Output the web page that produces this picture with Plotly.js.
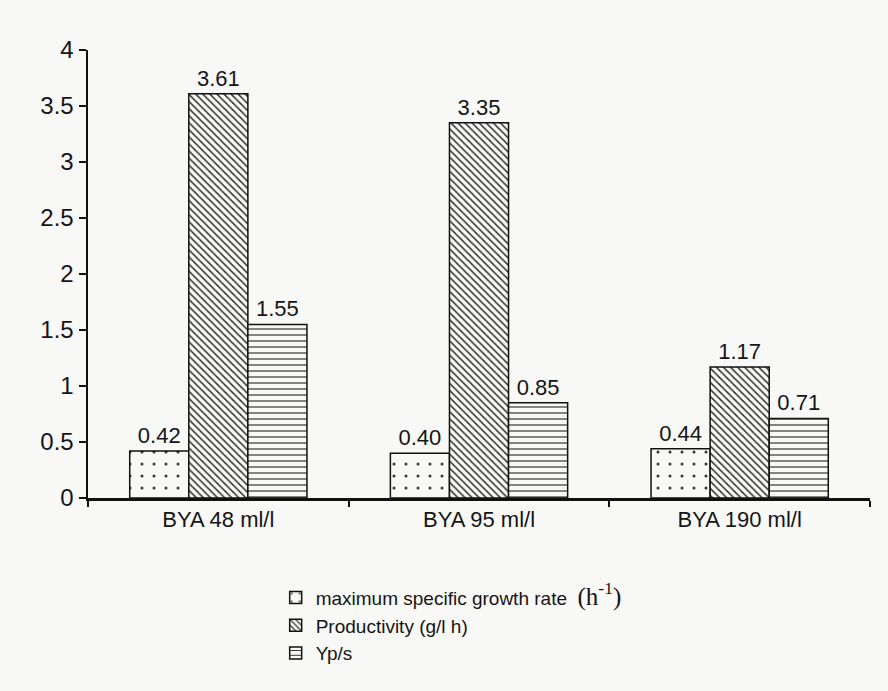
<!DOCTYPE html>
<html><head><meta charset="utf-8">
<script src="https://cdn.plot.ly/plotly-3.0.1.min.js"></script>
<style>html,body{margin:0;padding:0;background:#f8f8f6;}</style>
</head><body>
<div id="chart" style="width:888px;height:691px;"></div>
<script>
const categories = ["BYA 48 ml/l", "BYA 95 ml/l", "BYA 190 ml/l"];
const growthRate = [0.42, 0.40, 0.44];
const productivity = [3.61, 3.35, 1.17];
const ypS = [1.55, 0.85, 0.71];
const seriesNames = [
  "maximum specific growth rate  <span style='font-family:\"Liberation Serif\",serif;font-size:25px'>(h<sup>-1</sup>)</span>",
  "Productivity (g/l h)",
  "Yp/s"
];
const yTicks = [0, 0.5, 1, 1.5, 2, 2.5, 3, 3.5, 4];
const yTickText = ["0", "0.5", "1", "1.5", "2", "2.5", "3", "3.5", "4"];

const txtFont = {family: "Liberation Sans, Arial, sans-serif", size: 22, color: "#151515"};
function mk(y, name, shape, size, sol) {
  return {
    type: "bar", x: categories, y: y, name: name,
    texttemplate: "%{y:.2f}", textposition: "outside", textfont: txtFont,
    cliponaxis: false,
    marker: {
      color: "#f8f8f6",
      line: {color: "#111", width: 1.5},
      pattern: {shape: shape, fgcolor: "#333", bgcolor: "#f8f8f6", size: size, solidity: sol}
    }
  };
}
const data = [
  mk(growthRate, seriesNames[0], ".", 12, 0.05),
  mk(productivity, seriesNames[1], "\\", 5, 0.3),
  mk(ypS, seriesNames[2], "-", 6, 0.2)
];
const layout = {
  width: 888, height: 691,
  paper_bgcolor: "#f8f8f6", plot_bgcolor: "#f8f8f6",
  margin: {l: 88, r: 18, t: 50, b: 193},
  barmode: "group", bargap: 0.32, bargroupgap: 0,
  font: {family: "Liberation Sans, Arial, sans-serif", size: 19, color: "#151515"},
  showlegend: true,
  legend: {
    x: 0.24, y: -0.18, xanchor: "left", yanchor: "top",
    orientation: "v", bgcolor: "rgba(0,0,0,0)",
    font: {size: 19, color: "#151515"}, traceorder: "normal",
    itemwidth: 30, tracegroupgap: 0
  },
  xaxis: {
    showline: true, linecolor: "#111", linewidth: 2.5,
    ticks: "outside", tickson: "boundaries", ticklen: 6, tickwidth: 2, tickcolor: "#111",
    showgrid: false, zeroline: false,
    tickfont: {size: 22, color: "#151515"}
  },
  yaxis: {
    range: [0, 4], tickvals: yTicks, ticktext: yTickText,
    showline: true, linecolor: "#111", linewidth: 2.5,
    ticks: "outside", ticklen: 7, tickwidth: 2, tickcolor: "#111",
    showgrid: false, zeroline: false,
    tickfont: {size: 24, color: "#151515"}
  }
};
Plotly.newPlot("chart", data, layout, {displayModeBar: false, staticPlot: true});
</script>
</body></html>
